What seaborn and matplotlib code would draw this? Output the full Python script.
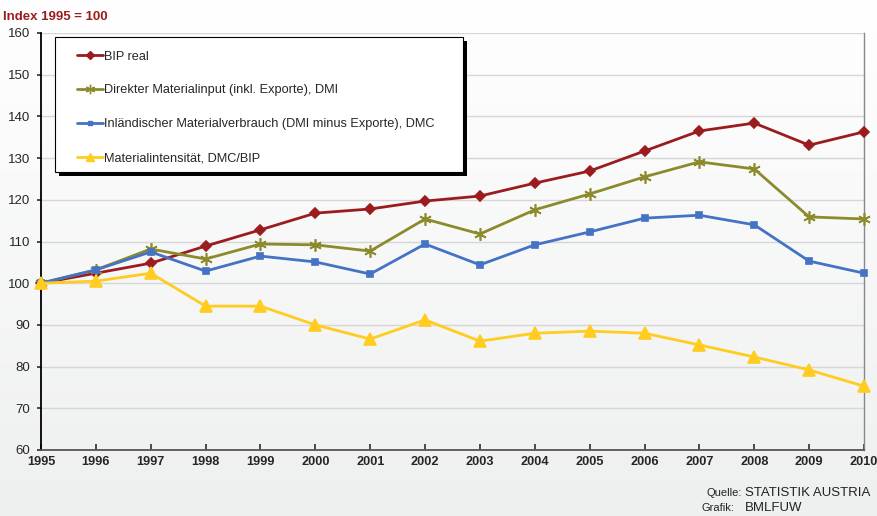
import matplotlib
matplotlib.use("Agg")
import matplotlib.pyplot as plt
import seaborn as sns
import pandas as pd
import numpy as np
from matplotlib.lines import Line2D
from matplotlib.patches import Rectangle
from matplotlib.colors import LinearSegmentedColormap

years = list(range(1995, 2011))
bip = [100, 102.4, 104.8, 108.9, 112.8, 116.8, 117.8, 119.7, 120.9, 124.0, 126.9, 131.7, 136.5, 138.4, 133.1, 136.3]
dmi = [100, 103.2, 108.2, 105.8, 109.4, 109.2, 107.7, 115.4, 111.8, 117.6, 121.4, 125.5, 129.1, 127.4, 115.9, 115.4]
dmc = [100, 103.2, 107.5, 102.9, 106.5, 105.1, 102.2, 109.4, 104.4, 109.2, 112.3, 115.6, 116.3, 114.0, 105.3, 102.4]
mi = [100, 100.5, 102.4, 94.5, 94.5, 90.0, 86.6, 91.2, 86.1, 88.0, 88.5, 88.0, 85.2, 82.3, 79.2, 75.3]

labels = ["BIP real",
          "Direkter Materialinput (inkl. Exporte), DMI",
          "Inländischer Materialverbrauch (DMI minus Exporte), DMC",
          "Materialintensität, DMC/BIP"]
colors = ["#9b1c1f", "#8b8b2b", "#4472c4", "#ffcc1f"]
markers = ["D", (6, 2, 0), "s", "^"]
msizes = [5, 9, 4, 8]
yticks = list(range(60, 161, 10))

sns.set_theme(style="white")
plt.rcParams['font.family'] = ['Liberation Sans', 'DejaVu Sans']

df = pd.DataFrame({
    "Jahr": years * 4,
    "Wert": bip + dmi + dmc + mi,
    "Serie": sum([[l] * len(years) for l in labels], []),
})

W, H = 878, 516
fig = plt.figure(figsize=(W / 100, H / 100), dpi=100)
bg = fig.add_axes([0, 0, 1, 1], zorder=-10)
grad = np.linspace(1.0, 0.0, 256).reshape(-1, 1)
cm = LinearSegmentedColormap.from_list("bg", ["#eef0ef", "#ffffff"])
bg.imshow(grad, aspect="auto", cmap=cm, extent=[0, 1, 0, 1])
bg.set_axis_off()

ax = fig.add_axes([41 / W, 1 - 450 / H, (864 - 41) / W, (450 - 33) / H])
ax.patch.set_alpha(0)

for lab, col, mk, ms in zip(labels, colors, markers, msizes):
    sub = df[df["Serie"] == lab]
    sns.lineplot(data=sub, x="Jahr", y="Wert", ax=ax, color=col, marker=mk,
                 markersize=ms, linewidth=2.0, markeredgecolor=col,
                 markeredgewidth=1.2, legend=False, clip_on=False, zorder=5)

ax.set_xlim(1995, 2010)
ax.set_ylim(60, 160)
ax.set_yticks(yticks)
ax.set_xticks(years)
ax.set_xticklabels([str(y) for y in years], fontweight="bold", fontsize=9.2)
ax.set_yticklabels([str(v) for v in yticks], fontsize=9.5)
ax.set_xlabel("")
ax.set_ylabel("")
ax.grid(axis="y", color="#d6d6d6", linewidth=1)
ax.tick_params(axis="x", direction="in", length=4, pad=4, color="#333333", bottom=True)
ax.tick_params(axis="y", direction="out", length=3, pad=5, color="#333333", left=True)
ax.spines["left"].set_color("#000000")
ax.spines["left"].set_linewidth(1.3)
ax.spines["bottom"].set_color("#555555")
ax.spines["bottom"].set_linewidth(1.3)
ax.spines["right"].set_color("#888888")
ax.spines["right"].set_linewidth(1)
ax.spines["top"].set_visible(False)

# legend frame with shadow
lx0, ly0, lx1, ly1 = 55, 37, 463, 172
fig.patches.append(Rectangle(((lx0 + 4) / W, 1 - (ly1 + 4) / H), (lx1 - lx0) / W, (ly1 - ly0) / H,
                             transform=fig.transFigure, facecolor="black", edgecolor="none", zorder=8))
fig.patches.append(Rectangle((lx0 / W, 1 - ly1 / H), (lx1 - lx0) / W, (ly1 - ly0) / H,
                             transform=fig.transFigure, facecolor="white", edgecolor="black",
                             linewidth=0.8, zorder=9))

handles = [Line2D([0], [0], color=c, marker=m, markersize=s * 0.75, linewidth=2.0,
                  markeredgecolor=c) for c, m, s in zip(colors, markers, msizes)]
fs = 9.2
leg = fig.legend(handles, labels, loc="upper left",
                 bbox_to_anchor=(77 / W, 1 - 50.5 / H), bbox_transform=fig.transFigure,
                 frameon=False, fontsize=fs, labelspacing=1.72, handlelength=2.0,
                 handletextpad=0.08, borderpad=0, borderaxespad=0)
leg.set_zorder(10)

fig.text(0.003, 0.978, "Index 1995 = 100", color="#9b1c1f", fontweight="bold",
         fontsize=9.5, ha="left", va="top")
fig.text(742 / W, 1 - 493 / H, "Quelle:", fontsize=8, ha="right", va="center", color="#222222")
fig.text(745 / W, 1 - 493 / H, "STATISTIK AUSTRIA", fontsize=9.5, ha="left", va="center", color="#222222")
fig.text(734 / W, 1 - 508 / H, "Grafik:", fontsize=8, ha="right", va="center", color="#222222")
fig.text(745 / W, 1 - 508 / H, "BMLFUW", fontsize=9.5, ha="left", va="center", color="#222222")

fig.savefig("out.png", dpi=100)
